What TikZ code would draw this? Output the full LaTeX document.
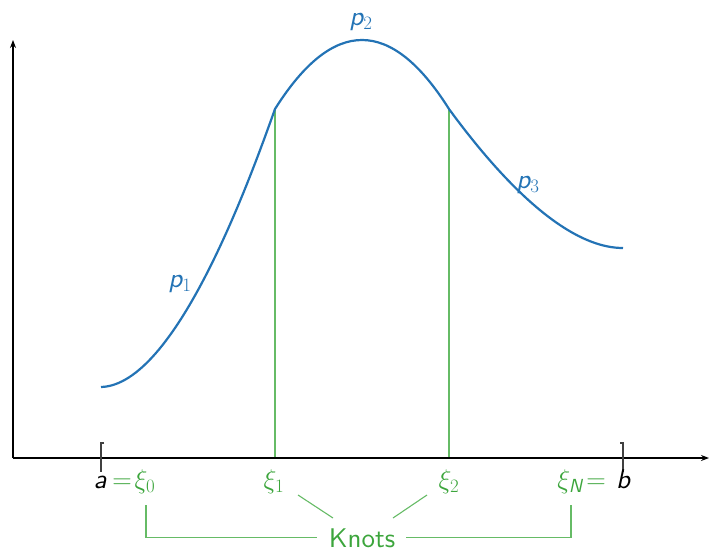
\RequirePackage{fix-cm}
\documentclass[tikz,border=0pt]{standalone}
\usepackage{amsmath}
\usepackage{fontspec}
\IfFontExistsTF{lmsans10-regular.otf}{%
\setsansfont{lmsans10-regular.otf}[ItalicFont=lmsans10-oblique.otf, BoldFont=lmsans10-bold.otf]}{}
\usetikzlibrary{arrows.meta}
\definecolor{cblue}{HTML}{2373B5}
\definecolor{ctext}{HTML}{3CA53C}
\definecolor{cline}{HTML}{66BB66}
\definecolor{cbrk}{HTML}{404040}
\newcommand{\sfi}[1]{{\sffamily\itshape #1}}
\begin{document}
\begin{tikzpicture}[x=1pt,y=-1pt,
  every node/.style={font=\fontsize{27}{32}\selectfont, inner sep=0pt},
  axis/.style={line width=1.1pt, draw=black, -{Stealth[length=8pt,width=6pt]}},
  curvestyle/.style={line width=2.2pt, draw=cblue},
  knotline/.style={line width=1.1pt, draw=cline},
  brk/.style={line width=1.5pt, draw=cbrk},
  lbl/.style={anchor=base, text=ctext}]
\useasboundingbox (0,0) rectangle (710,552);
% axes
\coordinate (o) at (13,458);
\coordinate (xe) at (709,458);
\coordinate (ye) at (13,40);
% knots on the curve
\coordinate (k0) at (101,387);
\coordinate (k1) at (275,109);
\coordinate (k2) at (449,109);
\coordinate (k3) at (623,248);
% knot verticals
\draw[knotline] (k1) -- (k1 |- o);
\draw[knotline] (k2) -- (k2 |- o);
\draw[axis] (o) -- (xe);
\draw[axis] (o) -- (ye);
% curve
\draw[curvestyle] (k0) .. controls (175,385) and (248,185) .. (k1)
   .. controls (333,17) and (391,17) .. (k2)
   .. controls (490,165) and (560,248) .. (k3);
% interval brackets
\draw[brk] (104,443) -- (101,443) -- (101,472);
\draw[brk] (620,443) -- (623,443) -- (623,472);
% labels below axis
\node[anchor=base, text=black] (a) at (100,488) {\sfi{a}};
\node[lbl] (eq0) at (122,488) {=};
\node[lbl] (xi0) at (145,488) {$\xi_0$};
\node[lbl] (xi1) at (274,488) {$\xi_1$};
\node[lbl] (xi2) at (449,488) {$\xi_2$};
\node[lbl] (xiN) at (570,488) {$\xi_{\text{\sffamily\itshape N}}$};
\node[lbl] (eqN) at (596,488) {=};
\node[anchor=base, text=black] (b) at (623,488) {\sfi{b}};
% Knots brace
\node[lbl, font=\fontsize{27}{32}\selectfont\sffamily] (knots) at (362,547) {Knots};
\coordinate (l0) at (146,505);
\coordinate (lN) at (571,505);
\draw[knotline] (l0) |- ([xshift=-12pt]knots.west);
\draw[knotline] (lN) |- ([xshift=11pt]knots.east);
\coordinate (d1a) at (298,495);
\coordinate (d1b) at (333,518);
\coordinate (d2a) at (427,495);
\coordinate (d2b) at (393,518);
\draw[knotline] (d1a) -- (d1b);
\draw[knotline] (d2a) -- (d2b);
% piece labels
\node[anchor=base, text=cblue] (p1) at (180,287) {\sfi{p}$_1$};
\node[anchor=base, text=cblue] (p2) at (361,25) {\sfi{p}$_2$};
\node[anchor=base, text=cblue] (p3) at (528,188) {\sfi{p}$_3$};
\end{tikzpicture}
\end{document}
